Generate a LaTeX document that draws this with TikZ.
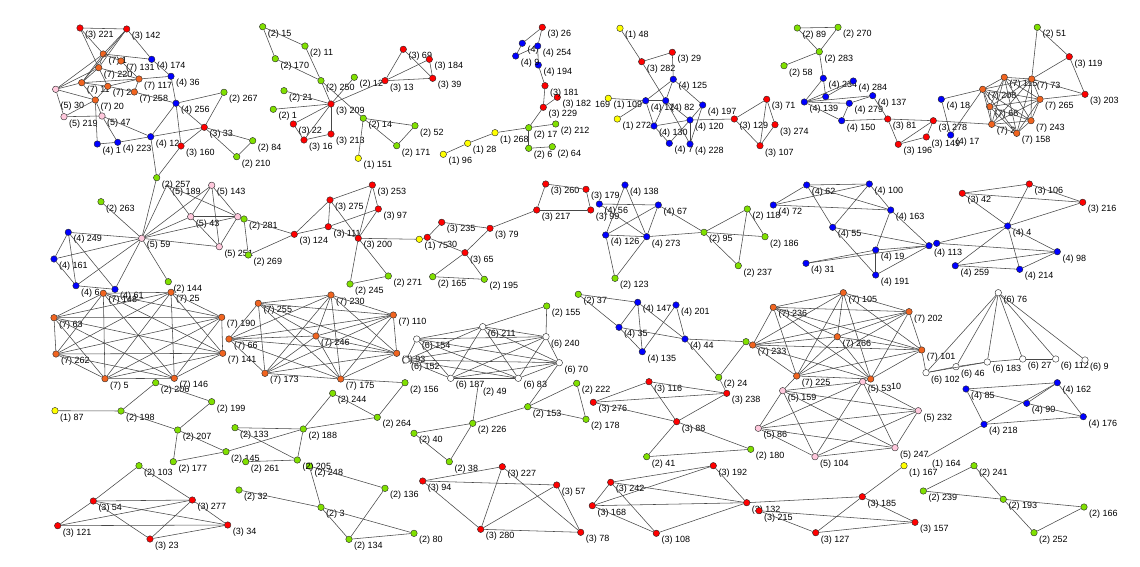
\documentclass[tikz,border=0pt]{standalone}
\usepackage{fontspec}
\setmainfont{Liberation Sans}
\definecolor{c1}{HTML}{FFFF00}
\definecolor{c2}{HTML}{80E000}
\definecolor{c3}{HTML}{FF0000}
\definecolor{c4}{HTML}{0000FF}
\definecolor{c5}{HTML}{FFC8DC}
\definecolor{c6}{HTML}{FFFFFF}
\definecolor{c7}{HTML}{F06420}
\newcommand\V[5]{\node[v,fill=c#4] (#1) at (#2,#3) {};\node[lbl] (l#1) at (#2+5,#3+7) {(#4) #5};}
\newcommand\VN[4]{\node[v,fill=c#4] (#1) at (#2,#3) {};}
\newcommand\TX[4]{\node[lbl] (#1) at (#2,#3) {#4};}
\newcommand\Kall[1]{\foreach \a [count=\i] in {#1}{\foreach \b [count=\j] in {#1}{\ifnum\j>\i \draw[e] (\a)--(\b);\fi}}}
\begin{document}
\begin{tikzpicture}[x=1pt,y=-1pt,
 v/.style={circle,draw=black!85,line width=0.4pt,inner sep=0pt,minimum size=6.5pt},
 lbl/.style={anchor=west,inner sep=0pt,font=\fontsize{9}{10}\selectfont},
 e/.style={draw=black!72,line width=0.55pt}]
\fill[white] (0,0) rectangle (1140,567);
\useasboundingbox (0,0) rectangle (1140,567);
% ---- cluster A
\V{r221}{80}{28}{3}{221}
\V{r142}{126.7}{29}{3}{142}
\V{oA}{103.3}{54}{7}{1}
\V{o131}{121}{61}{7}{131}
\V{o220}{98.7}{67.7}{7}{220}
\V{oB}{81.7}{82.7}{7}{11}
\V{oC}{107.7}{86.3}{7}{2}
\V{o117}{139}{79}{7}{117}
\V{o258}{134.3}{92}{7}{258}
\V{o20}{95.3}{100}{7}{20}
\VN{p30}{55.7}{89.3}{5}\TX{lp30}{60.5}{106}{(5) 30}
\V{p219}{64}{116.7}{5}{219}
\V{p47}{102}{116}{5}{47}
\V{b174}{151.7}{59.3}{4}{174}
\V{b36}{171}{76.3}{4}{36}
\V{b256}{176}{103.3}{4}{256}
\V{b1}{97.3}{144}{4}{1}
\V{b223}{117.7}{142.3}{4}{223}
\V{b129}{150.7}{136.7}{4}{12}
\V{r160}{181}{146}{3}{160}
\V{r33}{204.3}{127.3}{3}{33}
\V{g267}{224}{92.3}{2}{267}
\V{g84}{252.7}{140.7}{2}{84}
\V{g210}{236.7}{156.7}{2}{210}
\V{g257}{156.7}{177.7}{2}{257}
% ---- cluster B
\V{g15}{262.7}{26.7}{2}{15}
\V{g11}{305}{46}{2}{11}
\V{g170}{275.3}{58.7}{2}{170}
\V{g250}{321}{80.7}{2}{250}
\V{g12}{354.3}{77.3}{2}{12}
\V{g21}{284}{90.7}{2}{21}
\V{g1}{273.3}{109.3}{2}{1}
\V{r209}{331}{104}{3}{209}
\V{r22}{293.3}{124}{3}{22}
\V{r16}{304}{140}{3}{16}
\V{r213}{331}{134}{3}{213}
\V{r13}{385}{80.7}{3}{13}
\V{r69}{403.3}{49.3}{3}{69}
\V{r184}{429.3}{59.3}{3}{184}
\V{r39}{432.7}{78.3}{3}{39}
\V{g14}{363.3}{118.3}{2}{14}
\V{g52}{415}{125.7}{2}{52}
\V{g171}{396.7}{145.7}{2}{171}
\V{y151}{358.3}{158.3}{1}{151}
% ---- cluster C
\V{y96}{443.3}{154.3}{1}{96}
\V{y28}{467.7}{143.3}{1}{28}
\V{y268}{495}{132.7}{1}{268}
\V{g172}{528.7}{127.7}{2}{17}
\V{g212}{555.7}{124}{2}{212}
\V{g6}{528.7}{148.3}{2}{6}
\V{g64}{552.3}{146.7}{2}{64}
\V{r229}{543.3}{107.3}{3}{229}
\V{r182}{557.3}{97.3}{3}{182}
\V{r181}{545}{85.7}{3}{181}
\V{b194}{538.3}{65}{4}{194}
\V{bq}{522.3}{43.3}{4}{}
\V{b254}{537.7}{46}{4}{254}
\V{b91}{515.7}{56}{4}{9}
\V{r26}{542.3}{27.3}{3}{26}
\TX{t169}{595}{104}{169}
% ---- cluster D
\V{y48}{620}{28.3}{1}{48}
\V{r282}{641.7}{61.7}{3}{282}
\V{r29}{672.3}{52.3}{3}{29}
\V{b125}{673.3}{79.3}{4}{125}
\V{b122}{645.7}{100.7}{4}{12}
\V{b82}{665.7}{100.7}{4}{82}
\V{y109}{608.3}{98.3}{1}{109}
\V{y272}{617.3}{119}{1}{272}
\V{b130}{654}{126}{4}{130}
\V{b120}{690}{120}{4}{120}
\V{b197}{702.7}{105}{4}{197}
\V{b7}{669.3}{143.3}{4}{7}
\V{b228}{690}{144}{4}{228}
\V{r129}{734.3}{119}{3}{129}
\V{r71}{766.7}{99.3}{3}{71}
\V{r274}{775}{124.7}{3}{274}
\V{r107}{760}{145.7}{3}{107}
% ---- cluster E
\V{g89}{797.3}{28}{2}{89}
\V{g270}{838}{27.3}{2}{270}
\V{g283}{819.3}{51.7}{2}{283}
\V{g58}{784}{65.7}{2}{58}
\V{b234}{823.3}{78.3}{4}{234}
\VN{bx}{825.7}{96.7}{4}
\V{b139}{804.3}{102}{4}{139}
\V{b284}{853.3}{81}{4}{284}
\V{b137}{872.7}{95.7}{4}{137}
\V{b279}{849.3}{103.3}{4}{279}
\V{b150}{841.7}{120.7}{4}{150}
\V{r81}{887.7}{119}{3}{81}
\V{r278}{933.3}{120.7}{3}{278}
\V{r149}{926.3}{137}{3}{149}
\V{r196}{898.3}{144.3}{3}{196}
% ---- cluster F
\V{b18}{941.3}{99.3}{4}{18}
\V{b17}{950.7}{135}{4}{17}
\V{o115}{1004.3}{77.3}{7}{115}
\V{o73}{1031.7}{79}{7}{73}
\V{o208}{982.7}{89.3}{7}{208}
\V{o265}{1040}{99.3}{7}{265}
\V{o68}{989.7}{106.7}{7}{68}
\V{o2x}{991.7}{124.3}{7}{2}
\V{o243}{1031}{120.7}{7}{243}
\V{o158}{1016.7}{133.3}{7}{158}
\V{g51}{1037.3}{27.3}{2}{51}
\V{r119}{1069.3}{56.7}{3}{119}
\V{r203}{1085}{94.3}{3}{203}
% ---- cluster G
\V{g263}{101}{201.7}{2}{263}
\V{b249}{68.3}{232.3}{4}{249}
\V{b161}{54}{259}{4}{161}
\V{b6}{76}{285.7}{4}{6}
\V{b61}{115}{289.3}{4}{61}
\V{p59}{141.7}{238.3}{5}{59}
\V{g144}{168.3}{281.7}{2}{144}
\V{p143}{211.7}{185.3}{5}{143}
\coordinate (p189) at (167,185);\TX{lp189}{172}{192}{(5) 189}
\V{p43}{190.7}{216.7}{5}{43}
\VN{py}{237.7}{216.7}{5}
\V{p251}{219.3}{246.7}{5}{251}
\V{g281}{244}{219}{2}{281}
\V{g269}{248.3}{255}{2}{269}
% ---- cluster H
\V{r253}{372.3}{185}{3}{253}
\V{r275}{330}{200}{3}{275}
\V{r97}{378.3}{209}{3}{97}
\V{r111}{328.3}{226.7}{3}{111}
\V{r124}{294.3}{234.3}{3}{124}
\V{r200}{358.3}{238.3}{3}{200}
\V{g245}{350}{284}{2}{245}
\V{g271}{388.3}{276}{2}{271}
\V{y75}{419.3}{239.3}{1}{75}
\VN{r230x}{427.3}{237.3}{3}\TX{l230}{447}{244}{30}
\V{r235}{441.7}{222.3}{3}{235}
\V{r79}{490}{228.3}{3}{79}
\V{r65}{465}{252.7}{3}{65}
\V{g165}{432.7}{276.7}{2}{165}
\V{g195}{484.3}{279.3}{2}{195}
\V{r217}{536.7}{210}{3}{217}
\V{r260}{545.7}{184}{3}{260}
% ---- cluster I
\V{r179}{586}{189.3}{3}{179}
\V{r99}{590.7}{210}{3}{99}
\V{b138}{625}{185}{4}{138}
\V{b56}{599.3}{204}{4}{56}
\V{b67}{658.3}{205}{4}{67}
\V{b126}{605.7}{235}{4}{126}
\V{b273}{646.7}{236.7}{4}{273}
\V{g123}{615}{278.3}{2}{123}
\V{g95}{704}{232.3}{2}{95}
\V{g118}{747.3}{209}{2}{118}
\V{g186}{765}{236.7}{2}{186}
\V{g237}{738.3}{265.7}{2}{237}
% ---- cluster J
\V{b62}{806.7}{185}{4}{62}
\V{b100}{869.3}{184}{4}{100}
\V{b72}{773.3}{205}{4}{72}
\V{b163}{890.7}{210}{4}{163}
\V{b55}{832.7}{227.3}{4}{55}
\V{b19}{875.7}{250}{4}{19}
\V{b191}{875.7}{275}{4}{191}
\V{b31}{806}{263.3}{4}{31}
\V{b113}{929}{245.7}{4}{113}
\VN{bz}{936.7}{243.3}{4}
\V{r42}{962.3}{193.3}{3}{42}
\V{r106}{1029.3}{184}{3}{106}
\V{r216}{1082.7}{202.3}{3}{216}
\V{b4}{1007.7}{226}{4}{4}
\V{b98}{1057.3}{251.7}{4}{98}
\V{b259}{955.3}{265.7}{4}{259}
\V{b214}{1019.7}{269.3}{4}{214}
% ---- cluster K
\V{g37}{578.3}{294.3}{2}{37}
\V{b147}{637.7}{302.3}{4}{147}
\V{b201}{676}{305}{4}{201}
\V{b35}{619}{327.3}{4}{35}
\V{b44}{685}{339}{4}{44}
\V{b135}{642.3}{351.7}{4}{135}
\VN{g233}{746}{341.7}{2}
% ---- orange octagon
\V{o148}{103.3}{293.3}{7}{148}
\V{o25}{171}{292.3}{7}{25}
\V{o63}{54}{317.7}{7}{63}
\V{o190}{221.7}{317.3}{7}{190}
\V{o262}{56}{354}{7}{262}
\V{o141}{222.7}{353.3}{7}{141}
\V{o5}{105}{378.7}{7}{5}
\V{o146}{174.3}{378.3}{7}{146}
% ---- orange cluster 2
\V{o255}{258.3}{303.3}{7}{255}
\V{o230}{331}{295}{7}{230}
\V{o110}{393.3}{315}{7}{110}
\V{o246}{316}{336}{7}{246}
\V{o66}{229}{339}{7}{66}
\V{o173}{265}{373.3}{7}{173}
\V{o175}{340.7}{379}{7}{175}
\V{oq}{396.7}{353.3}{7}{93}
% ---- white middle
\V{w211}{482.7}{326.7}{6}{211}
\V{w154}{416.7}{339}{6}{154}
\V{w240}{546}{336.7}{6}{240}
\V{w152}{406}{360}{6}{152}
\V{w187}{450.7}{378.3}{6}{187}
\V{w83}{518.3}{378.3}{6}{83}
\V{w70}{559.3}{362.7}{6}{70}
\V{g155}{546.7}{306}{2}{155}
% ---- orange right
\V{o105}{843.3}{292.7}{7}{105}
\V{o236}{773.3}{307.3}{7}{236}
\V{o202}{909}{311.7}{7}{202}
\V{o266}{837.3}{336.7}{7}{266}
\V{o233}{752.7}{345}{7}{233}
\V{o101}{921.7}{350}{7}{101}
\V{o225}{796.7}{376}{7}{225}
\VN{o10}{870.7}{379}{7}\TX{l10}{891}{386}{10}
% ---- pink right
\V{p159}{782.7}{390.7}{5}{159}
\V{p53}{862.7}{381.7}{5}{53}
\V{p232}{918.3}{410.7}{5}{232}
\V{p86}{758.3}{428.3}{5}{86}
\V{p104}{815}{456.7}{5}{104}
\V{p247}{895}{447.7}{5}{247}
% ---- white right
\V{w76}{998.3}{292.7}{6}{76}
\V{w102}{926}{372.7}{6}{102}
\V{w46}{956}{366.7}{6}{46}
\V{w183}{987.3}{362}{6}{183}
\V{w27}{1022.7}{359}{6}{27}
\V{w112}{1055.7}{359}{6}{112}
\V{w9}{1085}{360}{6}{9}
% ---- blue right bottom
\V{b85}{966}{389}{4}{85}
\V{b162}{1057.3}{382.7}{4}{162}
\V{b90}{1026.7}{403.3}{4}{90}
\V{b176}{1083.3}{416.7}{4}{176}
\V{b218}{984}{424.3}{4}{218}
\coordinate (y164) at (927,457);\TX{l164}{932}{464}{(1) 164}
\V{y167}{904}{465.7}{1}{167}
\V{r185}{862.3}{496.7}{3}{185}
\V{r157}{915}{522.3}{3}{157}
\V{g239}{923.3}{491}{2}{239}
\V{g241}{974}{465.7}{2}{241}
\V{g193}{1003.3}{499.3}{2}{193}
\V{g166}{1084}{507}{2}{166}
\V{g252}{1034}{532.7}{2}{252}
% ---- red bottom middle
\V{g222}{576.7}{383.3}{2}{222}
\V{g178}{586}{419.3}{2}{178}
\V{r116}{649}{381.7}{3}{116}
\V{r276}{593.3}{402.3}{3}{276}
\V{r238}{726.7}{393.3}{3}{238}
\V{g24}{718.7}{377.3}{2}{24}
\V{r88}{676.7}{421.7}{3}{88}
\V{g41}{646.7}{456.7}{2}{41}
\V{g180}{750.7}{449.3}{2}{180}
\V{r192}{713.3}{465.7}{3}{192}
\V{r242}{610.7}{482.3}{3}{242}
\V{r168}{592.3}{505.7}{3}{168}
\V{r132}{746.7}{502.7}{3}{132}
\V{r215}{759}{510.7}{3}{215}
\V{r108}{656.3}{533.3}{3}{108}
\V{r78}{580.7}{532.3}{3}{78}
\V{r127}{815.7}{532.7}{3}{127}
% ---- bottom middle
\V{g156}{405}{382.7}{2}{156}
\V{g244}{332.7}{393.3}{2}{244}
\V{g264}{377.3}{417.3}{2}{264}
\V{g188}{303.3}{429}{2}{188}
\V{g40}{414}{433.3}{2}{40}
\V{g226}{472.7}{423.3}{2}{226}
\V{g38}{449.3}{461.7}{2}{38}
\V{g153}{527.7}{406.7}{2}{153}
\coordinate (g49) at (478,386);\TX{l49}{483}{392}{(2) 49}
\V{r94}{422.7}{481}{3}{94}
\V{r227}{502.3}{466.7}{3}{227}
\V{r57}{556.7}{485}{3}{57}
\V{r280}{480.7}{529.3}{3}{280}
\V{g136}{385}{488.3}{2}{136}
\V{g3}{321}{507.3}{2}{3}
\V{g134}{349}{539.3}{2}{134}
\V{g80}{414}{533.3}{2}{80}
\V{g248}{309.3}{466}{2}{248}
\V{g205}{297.3}{460}{2}{205}
\V{g32}{239}{490}{2}{32}
\V{g133}{235}{427.7}{2}{133}
\V{g145}{226}{451.7}{2}{145}
\V{g261}{245.7}{461.7}{2}{261}
% ---- bottom left
\V{y87}{55}{410.7}{1}{87}
\V{g198}{121}{411}{2}{198}
\V{g206}{155.7}{382.7}{2}{206}
\V{g199}{211.7}{401.7}{2}{199}
\V{g207}{177.7}{430}{2}{207}
\V{g177}{173.3}{461.7}{2}{177}
\V{g103}{139}{465.7}{2}{103}
\V{r54}{93.3}{501}{3}{54}
\V{r277}{192.3}{500}{3}{277}
\V{r121}{57.7}{525.7}{3}{121}
\V{r34}{227.7}{525}{3}{34}
\V{r23}{150}{539}{3}{23}
% ================= edges
\foreach \a/\b in {r221/r142,r221/oA,r221/o220,r142/oA,r142/o220,r142/oB,r142/b174,oA/b174,oA/o131,oA/o220,oA/oB,oA/p30,o131/o117,o220/oB,o220/oC,o220/o117,o220/p30,oB/o117,oB/oC,oB/p30,oB/o20,oC/o117,oC/o258,oC/o20,o117/b36,o117/o258,o258/b256,p30/o20,p30/p219,p219/o20,p219/p47,o20/p47,o20/b1,p47/b223,p47/b129,b1/b223,b223/b129,b174/b36,b36/b256,b256/g267,b256/r33,b256/b129,b256/r160,b129/r33,b129/g257,r160/g257,r160/r33,r33/g267,r33/g84,r33/g210,g84/g210}
  \draw[e] (\a)--(\b);
\foreach \a/\b in {g15/g11,g15/g170,g170/g250,g11/g250,g250/r209,g250/g14,g21/r209,g1/r209,r22/r209,r16/r209,r213/r209,r22/r16,r16/r213,r209/r13,g12/r209,r13/r69,r13/r184,r13/r39,r69/r39,r184/r39,g14/g52,g14/g171,g52/g171,g14/y151}
  \draw[e] (\a)--(\b);
\foreach \a/\b in {y96/y28,y28/y268,y268/g172,g172/g212,g172/g6,g6/g64,g172/r229,r229/r181,r229/r182,r181/b194,b194/b254,bq/r26,b254/r26,bq/b91,b91/b254}
  \draw[e] (\a)--(\b);
\foreach \a/\b in {y48/r282,r282/r29,r282/b82,r29/b125,b125/b122,b125/b82,b125/b197,b122/b82,b122/y109,b122/y272,b122/b130,b82/b120,b82/b130,b82/b228,b130/b120,b130/b7,b120/b197,b120/b228,b120/b7,b197/b228,b120/r129,r129/r71,r129/r107,r71/r274,r71/r107,r274/r107}
  \draw[e] (\a)--(\b);
\foreach \a/\b in {g89/g270,g89/g283,g270/g283,g283/g58,g283/b234,b234/b139,b234/bx,b139/bx,b139/b284,b139/b137,b139/b279,b139/b150,bx/b284,b279/b137,b150/b279,b150/r81,b137/r81,r81/r196,r196/r278,r196/r149,r278/r149,r81/r278}
  \draw[e] (\a)--(\b);
\foreach \a/\b in {b18/o208,b18/b17,b17/o208,g51/o73,g51/r119,r119/o73,r119/r203,o73/r203,o265/r203,r278/o2x}
  \draw[e] (\a)--(\b);
\Kall{o115,o73,o208,o265,o68,o2x,o243,o158}
\foreach \a/\b in {p59/g263,p59/b249,p59/b161,p59/b6,p59/b61,p59/g144,p59/g257,p59/p43,p59/p189,p59/py,p59/p251,p59/p143,b249/b161,b249/b61,b249/b6,b161/b6,b6/b61,p43/p143,p43/py,p43/p189,p43/p251,p143/py,p143/p251,p189/py,py/p251,g281/g269,g281/r124,g269/r124}
  \draw[e] (\a)--(\b);
\foreach \a/\b in {r253/r275,r253/r97,r253/r200,r275/r111,r275/r124,r275/r200,r97/r111,r97/r200,r111/r124,r111/r200,r200/g245,r200/g271,g245/g271,r200/y75,y75/r230x,r230x/r235,r235/r79,r230x/r65,r65/r79,r65/g165,r65/g195,g165/g195,r79/r217,r217/r260,r217/r99,r260/r179,r179/r99}
  \draw[e] (\a)--(\b);
\foreach \a/\b in {b138/b126,b138/b273,b56/b67,b56/b273,b67/b126,b67/b273,b126/b273,b126/g123,b273/g123,b273/g95,b67/g95,g95/g118,g95/g186,g95/g237,g118/g237,g118/g186}
  \draw[e] (\a)--(\b);
\foreach \a/\b in {b62/b72,b62/b55,b62/b163,b62/b100,b72/b100,b72/b163,b100/b55,b100/b163,b163/b19,b163/b113,b55/b113,b55/b191,b31/b19,b31/b113,b19/b191,b19/b113,b191/b113,b113/bz,bz/b4,b4/r42,b4/r106,b4/r216,b4/b214,b4/b259,r42/r106,r42/r216,r106/r216,b4/b98,b98/b259,b98/b214,b259/b214,bz/b98}
  \draw[e] (\a)--(\b);
\foreach \a/\b in {g37/b35,g37/b147,b147/b35,b147/b135,b147/b44,b201/b135,b201/b44,b35/b44,b35/b135,b44/g233,g233/g24,b44/g24,g233/o233}
  \draw[e] (\a)--(\b);
\Kall{o148,o25,o63,o190,o262,o141,o5,o146}
\Kall{o255,o230,o110,o246,o66,o173,o175,oq}
\Kall{w211,w154,w240,w152,w187,w83,w70}
\Kall{o105,o236,o202,o266,o233,o101,o225,o10}
\Kall{p159,p53,p232,p86,p104,p247}
\foreach \a/\b in {g155/w240,g155/w211,g153/w70,o225/p159,o10/p53,w76/w102,w76/w46,w76/w183,w76/w27,w76/w112,w76/w9,w102/w46,w46/w183,w183/w27,w27/w112,w102/w183,o101/w102,b85/b162,b85/b90,b85/b218,b162/b90,b162/b218,b162/b176,b90/b176,b218/b176,b218/y164,y167/r185,r185/r127,r185/r132,r185/r157,r157/r127,r157/r215,r215/r127,r132/r192,r132/r242,r132/r168,r132/r108,r242/r192,r242/r168,r242/r108,r168/r192,r168/r108,g239/g241,g239/g193,g241/g193,g193/g166,g193/g252,g166/g252}
  \draw[e] (\a)--(\b);
\foreach \a/\b in {r116/r276,r116/r238,r116/r88,r276/r238,r276/r88,r88/r238,r88/g41,r88/g180,g41/g180,g24/r238,g222/g178,g222/g153,g178/g153,o175/g156,g156/g264,g244/g264,g244/g188,g188/g264,g188/g205,g133/g205,g133/g188,g145/g188,g261/g205,g40/g226,g40/g38,g226/g38,g226/g49,g226/g153,r94/r227,r94/r57,r94/r280,r227/r280,r227/r78,r57/r280,r57/r78,r280/r78,g248/g136,g248/g3,g3/g134,g3/g80,g134/g80,g134/g136,g32/g3,y87/g198,g198/g206,g198/g207,g206/g199,g199/g207,g207/g177,g207/g145,g177/g145,g103/r54,g103/r277,r54/r277,r54/r121,r54/r34,r121/r277,r121/r34,r54/r23,r277/r23,r23/r34,r277/r34}
  \draw[e] (\a)--(\b);
\end{tikzpicture}
\end{document}
